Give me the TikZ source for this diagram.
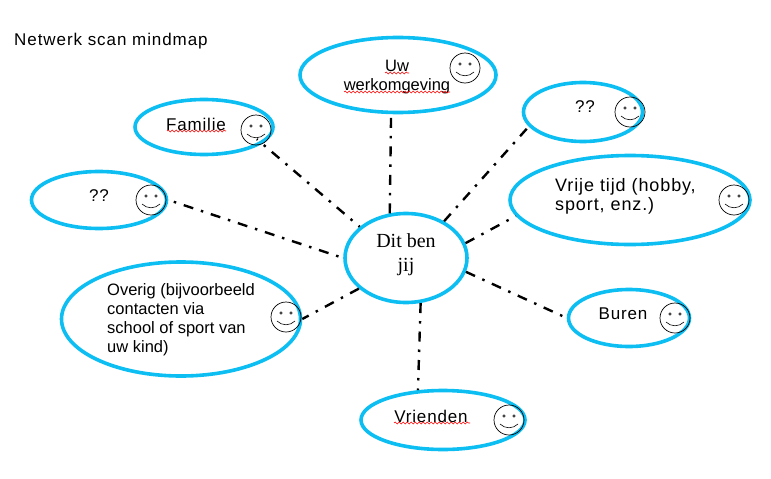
\documentclass[tikz,border=0pt]{standalone}
\usepackage{fontspec}
\setmainfont{Liberation Sans}
\newfontfamily\hubfont{Liberation Serif}
\newfontfamily\widefont[LetterSpace=5]{Liberation Sans}
\newfontfamily\titlefont[LetterSpace=5.5]{Liberation Sans}
\usetikzlibrary{shapes.geometric, decorations.pathmorphing}
\definecolor{ringblue}{HTML}{0CBEF2}
\tikzset{
  bubble/.style={draw=ringblue, line width=3.6pt, ellipse, inner sep=0pt},
  dashline/.style={line width=2.4pt, dash pattern=on 10pt off 8pt on 2.5pt off 8pt},
  lab/.style={font=\fontsize{16.5}{19}\selectfont, align=left, inner sep=0pt},
  widelab/.style={font=\widefont\fontsize{17}{19}\selectfont, align=left, inner sep=0pt},
  wavy/.style={red, line width=0.6pt, decorate, decoration={snake, amplitude=0.9pt, segment length=4pt}}
}
% smiley: centre, radius 15
\newcommand{\smiley}[2]{
  \draw[line width=0.7pt] (#1,#2) circle (15);
  \draw[line width=0.6pt] (#1-5,#2-4) circle (1.3);
  \draw[line width=0.6pt] (#1+5,#2-4) circle (1.3);
  \draw[line width=0.6pt] (#1-9,#2+4) .. controls (#1-4,#2+9) and (#1+4,#2+9) .. (#1+9,#2+4);
}
\begin{document}
\begin{tikzpicture}[x=1pt, y=-1pt]
  \useasboundingbox (0,0) rectangle (771,479);
  \node[widelab, font=\titlefont\fontsize{17}{19}\selectfont, anchor=west] (title) at (14,41) {Netwerk scan mindmap};
  % bubbles
  \node[bubble, minimum width=122pt, minimum height=89pt] (hub) at (406,258) {};
  \node[bubble, minimum width=196pt, minimum height=75pt] (werk) at (398,75) {};
  \node[bubble, minimum width=138pt, minimum height=55pt] (familie) at (204,127) {};
  \node[bubble, minimum width=135pt, minimum height=57pt] (vraagl) at (99,200) {};
  \node[bubble, minimum width=119pt, minimum height=59pt] (vraagr) at (583,112) {};
  \node[bubble, minimum width=240pt, minimum height=89pt] (vrij) at (630,200) {};
  \node[bubble, minimum width=239pt, minimum height=114pt] (overig) at (181,319) {};
  \node[bubble, minimum width=121pt, minimum height=57pt] (buren) at (629,318) {};
  \node[bubble, minimum width=164pt, minimum height=59pt] (vrienden) at (443,420) {};
  % connectors, hub outwards
  \draw[dashline] (hub.110) -- (werk.260);
  \draw[dashline] (hub.44) -- (vraagr.195);
  \draw[dashline] (hub.14) -- (vrij.188);
  \draw[dashline] (hub.-13) -- (buren.180);
  \draw[dashline] (hub.-72) -- (vrienden.130);
  \draw[dashline] (hub.213) -- (overig.0);
  \draw[dashline, dash phase=13pt] (hub.180) -- (vraagl.0);
  \draw[dashline, dash phase=8.5pt, shorten >=-7pt] (hub.146) -- (familie.-16);
  % labels
  \node[font=\hubfont\fontsize{20}{24}\selectfont, align=center] (hubtext) at (406,255) {Dit ben\\jij};
  \node[lab, align=center] (werktext) at (397,77) {Uw\\werkomgeving};
  \node[widelab] (famtext) at (196,124) {Familie};
  \node[widelab] (vltext) at (99,196) {??};
  \node[widelab] (vrtext) at (585,107) {??};
  \node[widelab, font=\widefont\fontsize{18}{19}\selectfont, anchor=north west] (vrijtext) at (555,178) {Vrije tijd (hobby,\\sport, enz.)};
  \node[lab, anchor=north west] (overtext) at (107,283) {Overig (bijvoorbeeld\\contacten via\\school of sport van\\uw kind)};
  \node[widelab] (burtext) at (623,314) {Buren};
  \node[widelab] (vrtext2) at (431,416) {Vrienden};
  % spelling marks
  \draw[wavy] (385,73) -- (409,73);
  \draw[wavy] (344,92) -- (450,92);
  \draw[wavy] (167,131) -- (226,131);
  \draw[wavy] (394,423) -- (470,423);
  % smileys
  \foreach \sx/\sy in {465/68, 256/130, 151/200, 630/112, 734/200, 286/317, 675/318, 509/420}{
    \smiley{\sx}{\sy}
  }
\end{tikzpicture}
\end{document}
